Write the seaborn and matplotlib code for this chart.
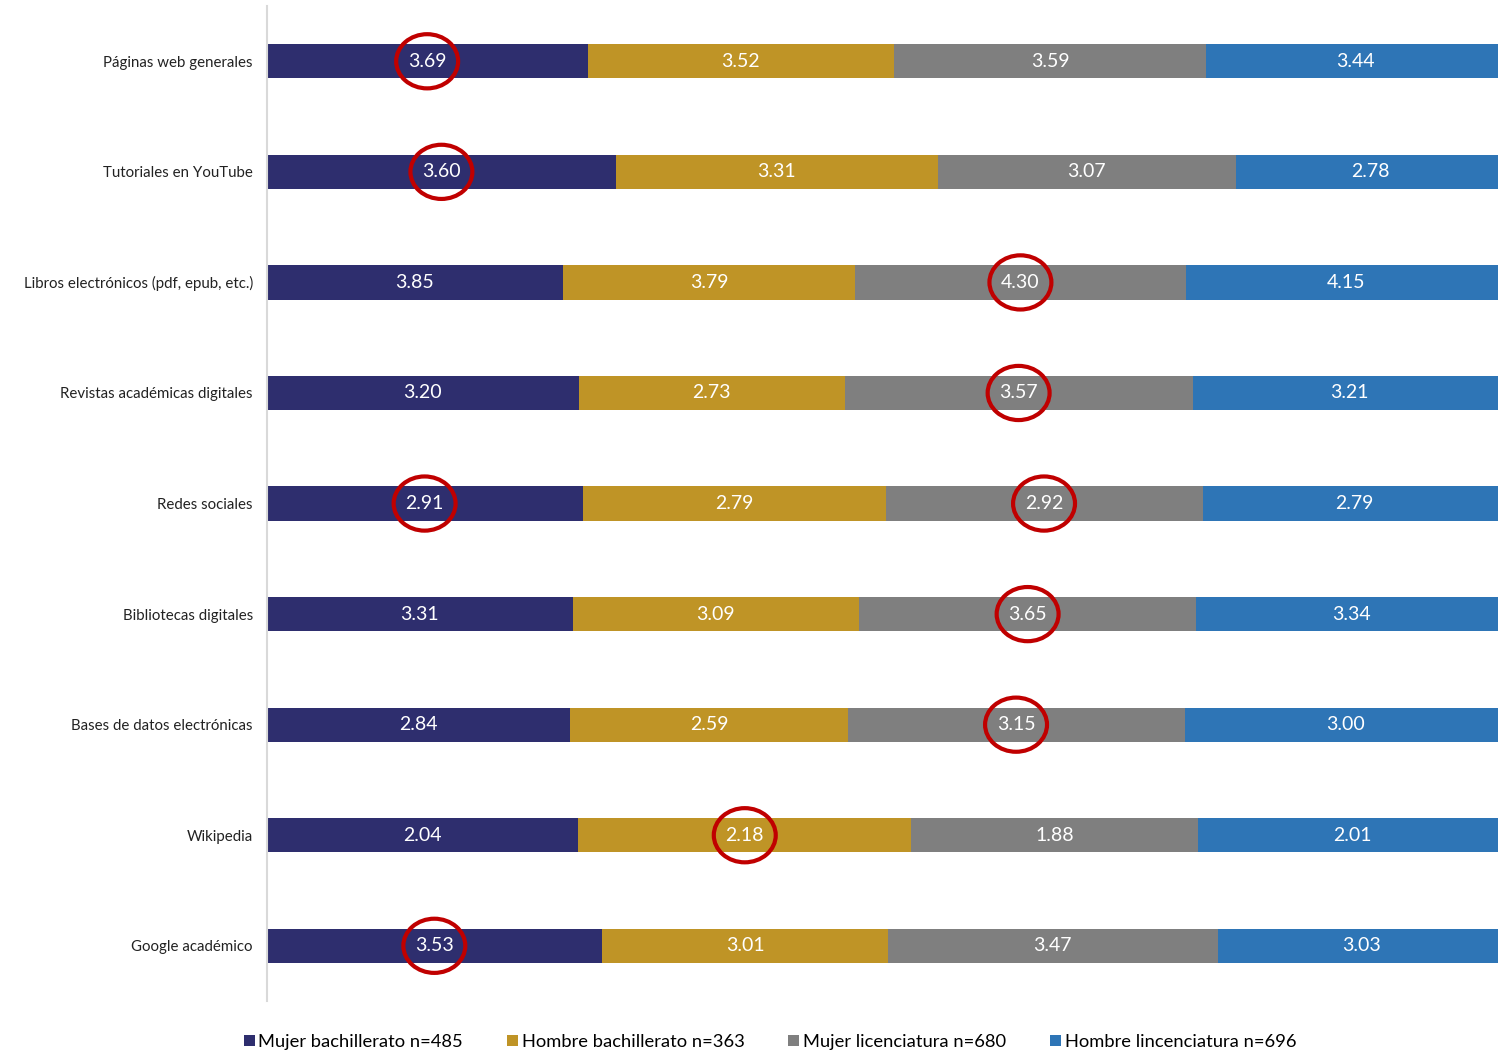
import numpy as np
import pandas as pd
import seaborn as sns
import matplotlib.pyplot as plt
from matplotlib.patches import Ellipse, Patch

plt.rcParams["font.family"] = ["Lato", "DejaVu Sans"]

# Data
categorias = ["Páginas web generales", "Tutoriales en YouTube", "Libros electrónicos (pdf, epub, etc.)",
              "Revistas académicas digitales", "Redes sociales", "Bibliotecas digitales",
              "Bases de datos electrónicas", "Wikipedia", "Google académico"]
mujer_bach = [3.69, 3.60, 3.85, 3.20, 2.91, 3.31, 2.84, 2.04, 3.53]
hombre_bach = [3.52, 3.31, 3.79, 2.73, 2.79, 3.09, 2.59, 2.18, 3.01]
mujer_lic = [3.59, 3.07, 4.30, 3.57, 2.92, 3.65, 3.15, 1.88, 3.47]
hombre_lic = [3.44, 2.78, 4.15, 3.21, 2.79, 3.34, 3.00, 2.01, 3.03]
series = ["Mujer bachillerato n=485", "Hombre bachillerato n=363",
          "Mujer licenciatura n=680", "Hombre lincenciatura n=696"]
# highlighted (row, series) pairs circled in red
resaltados = [(0, 0), (1, 0), (2, 2), (3, 2), (4, 0), (4, 2), (5, 2), (6, 2), (7, 1), (8, 0)]

colores = ["#2E2E6E", "#BF9426", "#7F7F7F", "#2E75B6"]

vals = np.array([mujer_bach, hombre_bach, mujer_lic, hombre_lic]).T
pct = vals / vals.sum(axis=1, keepdims=True) * 100
cum = pct.cumsum(axis=1)

fig = plt.figure(figsize=(14.98, 10.53), dpi=100)
ax = fig.add_axes([0.178, 0.0493, 0.827, 0.945])

# stacked bars: draw cumulative totals from last to first
for j in range(3, -1, -1):
    df = pd.DataFrame({"cat": categorias, "val": cum[:, j]})
    sns.barplot(data=df, x="val", y="cat", orient="h", color=colores[j],
                width=0.31, saturation=1, ax=ax, edgecolor="none")

for i in range(len(categorias)):
    for j in range(4):
        xc = cum[i, j] - pct[i, j] / 2
        ax.text(xc, i, f"{vals[i, j]:.2f}", ha="center", va="center",
                color="white", fontsize=14)

for i, j in resaltados:
    xc = cum[i, j] - pct[i, j] / 2
    ax.add_patch(Ellipse((xc, i), 5.0, 0.49, fill=False, edgecolor="#C00000", lw=3, zorder=5))

ax.set_xlim(0, 100)
ax.set_ylim(8.5, -0.5)
ax.set_xlabel("")
ax.set_ylabel("")
ax.set_xticks([])
ax.tick_params(axis="y", length=0, pad=10, labelsize=10.8, labelcolor="#222222")
for s in ["top", "right", "bottom"]:
    ax.spines[s].set_visible(False)
ax.spines["left"].set_color("#D9D9D9")
ax.spines["left"].set_linewidth(1.5)

handles = [Patch(facecolor=c, edgecolor="none") for c in colores]
fig.legend(handles, series, loc="center", bbox_to_anchor=(0.514, 0.0105), ncol=4, frameon=False,
           fontsize=13.2, handlelength=0.6, handleheight=0.6, handletextpad=0.2, columnspacing=2.4)

fig.savefig("out.png", dpi=100)
